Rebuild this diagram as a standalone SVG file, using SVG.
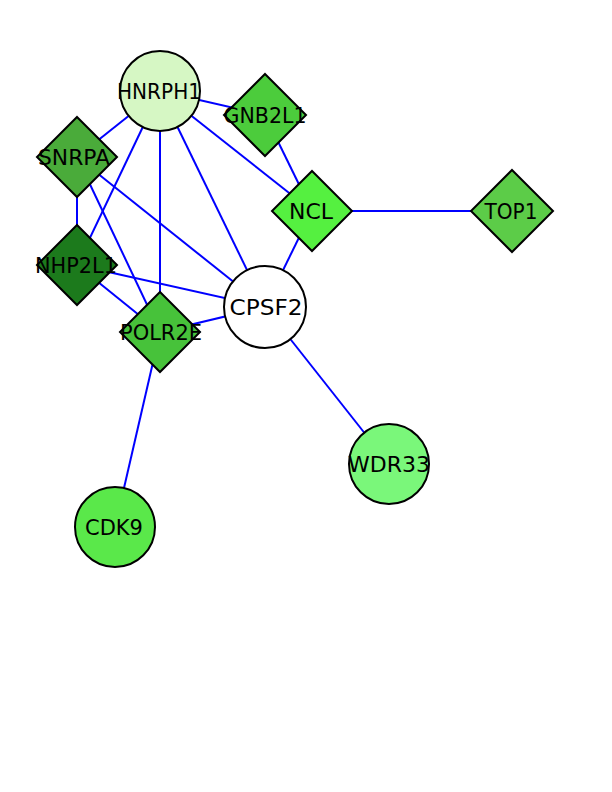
<svg xmlns="http://www.w3.org/2000/svg" width="612" height="792" viewBox="0 0 612 792">
  <style>
    .edge { stroke: #0000ff; stroke-width: 2; fill: none; }
    .node { stroke: #000000; stroke-width: 2; }
    .label { font-family: "DejaVu Sans", "Liberation Sans", sans-serif; font-size: 22px; fill: #000000; text-anchor: middle; }
  </style>
  <rect width="612" height="792" fill="#ffffff"/>
  <g id="edges">
    <line class="edge" x1="160" y1="91" x2="265" y2="115"/>
    <line class="edge" x1="160" y1="91" x2="77" y2="157"/>
    <line class="edge" x1="160" y1="91" x2="77" y2="265"/>
    <line class="edge" x1="160" y1="91" x2="160" y2="332"/>
    <line class="edge" x1="160" y1="91" x2="265" y2="307"/>
    <line class="edge" x1="160" y1="91" x2="312" y2="211"/>
    <line class="edge" x1="265" y1="115" x2="312" y2="211"/>
    <line class="edge" x1="312" y1="211" x2="265" y2="307"/>
    <line class="edge" x1="312" y1="211" x2="512" y2="211"/>
    <line class="edge" x1="77" y1="157" x2="77" y2="265"/>
    <line class="edge" x1="77" y1="157" x2="160" y2="332"/>
    <line class="edge" x1="77" y1="157" x2="265" y2="307"/>
    <line class="edge" x1="77" y1="265" x2="265" y2="307"/>
    <line class="edge" x1="77" y1="265" x2="160" y2="332"/>
    <line class="edge" x1="160" y1="332" x2="265" y2="307"/>
    <line class="edge" x1="160" y1="332" x2="115" y2="527"/>
    <line class="edge" x1="265" y1="307" x2="389" y2="464"/>
  </g>
  <g id="HNRPH1">
    <circle class="node" cx="160" cy="91" r="40" fill="#d6f7c4"/>
    <text class="label" x="159" y="99" textLength="84" lengthAdjust="spacingAndGlyphs">HNRPH1</text>
  </g>
  <g id="GNB2L1">
    <polygon class="node" points="265,74 306,115 265,156 224,115" fill="#4ccc3c"/>
    <text class="label" x="265" y="123" textLength="83" lengthAdjust="spacingAndGlyphs">GNB2L1</text>
  </g>
  <g id="SNRPA">
    <polygon class="node" points="77,117 117,157 77,197 37,157" fill="#4aab3a"/>
    <text class="label" x="74" y="165" textLength="72" lengthAdjust="spacingAndGlyphs">SNRPA</text>
  </g>
  <g id="NHP2L1">
    <polygon class="node" points="77,225 117,265 77,305 37,265" fill="#1c7a1c"/>
    <text class="label" x="76" y="273" textLength="82" lengthAdjust="spacingAndGlyphs">NHP2L1</text>
  </g>
  <g id="NCL">
    <polygon class="node" points="312,171 352,211 312,251 272,211" fill="#55f040"/>
    <text class="label" x="311" y="219" textLength="44" lengthAdjust="spacingAndGlyphs">NCL</text>
  </g>
  <g id="TOP1">
    <polygon class="node" points="512,170 553,211 512,252 471,211" fill="#5ccc48"/>
    <text class="label" x="511" y="219" textLength="53" lengthAdjust="spacingAndGlyphs">TOP1</text>
  </g>
  <g id="CPSF2">
    <circle class="node" cx="265" cy="307" r="41" fill="#ffffff"/>
    <text class="label" x="266" y="315" textLength="73" lengthAdjust="spacingAndGlyphs">CPSF2</text>
  </g>
  <g id="POLR2E">
    <polygon class="node" points="160,292 200,332 160,372 120,332" fill="#47c23a"/>
    <text class="label" x="161" y="340" textLength="82" lengthAdjust="spacingAndGlyphs">POLR2E</text>
  </g>
  <g id="WDR33">
    <circle class="node" cx="389" cy="464" r="40" fill="#7af77a"/>
    <text class="label" x="389" y="472" textLength="82" lengthAdjust="spacingAndGlyphs">WDR33</text>
  </g>
  <g id="CDK9">
    <circle class="node" cx="115" cy="527" r="40" fill="#5ae84a"/>
    <text class="label" x="114" y="535" textLength="58" lengthAdjust="spacingAndGlyphs">CDK9</text>
  </g>
</svg>
